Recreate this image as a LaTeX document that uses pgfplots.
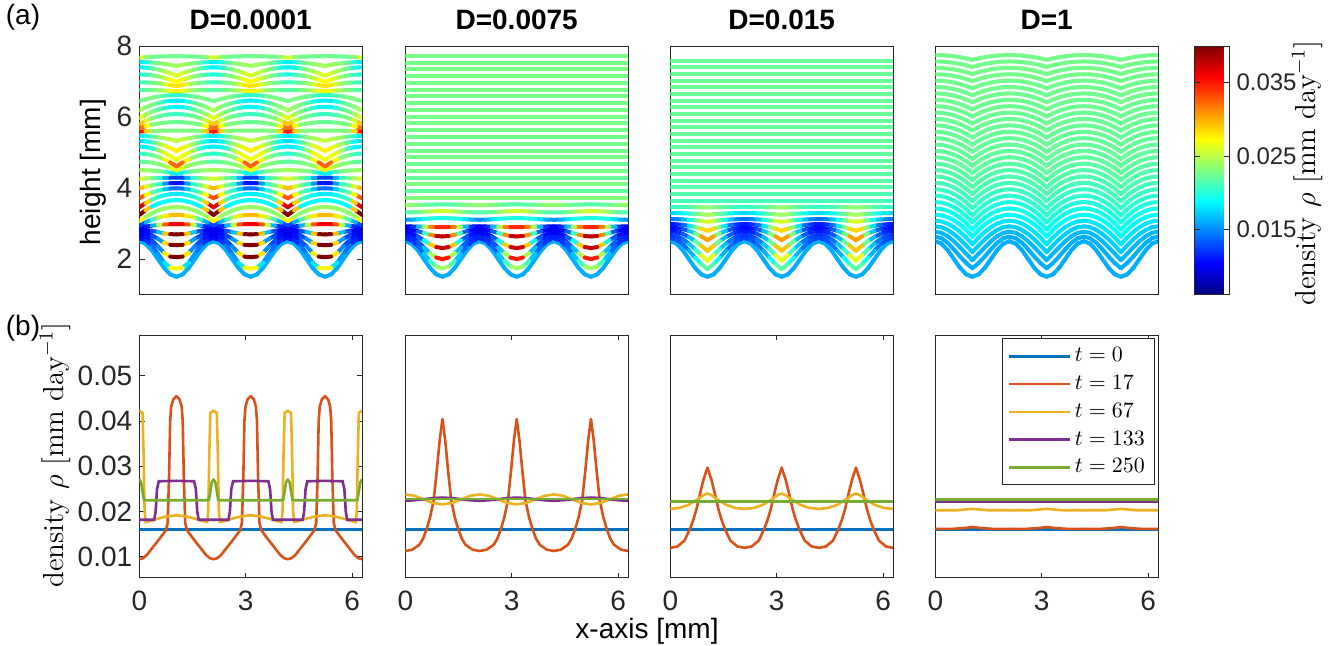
\documentclass[border=0pt]{standalone}
\usepackage{fontspec}
\setsansfont{Liberation Sans}
\usepackage{pgfplots}
\usepackage{pgfplotstable}
\pgfplotsset{compat=1.18}

\begin{filecontents*}[overwrite]{p1.dat}
x y c
0 2.5 0.0161
0.1745 2.433 0.0161
0.3491 2.25 0.0161
0.5236 2.0 0.0161
0.6981 1.75 0.0161
0.8727 1.567 0.0161
1.0472 1.5 0.0161

0 2.58 0.0105
0.1745 2.538 0.0110
0.3491 2.393 0.0130
0.5236 2.155 0.0150
0.6981 1.90 0.0160
0.8727 1.756 0.0200
1.0472 1.73 0.0350

0 2.67 0.0095
0.1745 2.639 0.0102
0.3491 2.534 0.0118
0.5236 2.36 0.0140
0.6981 2.174 0.0160
0.8727 2.069 0.0440
1.0472 2.05 0.0455

0 2.75 0.0095
0.1745 2.732 0.0100
0.3491 2.671 0.0115
0.5236 2.57 0.0140
0.6981 2.462 0.0170
0.8727 2.401 0.0440
1.0472 2.39 0.0440

0 2.825 0.0095
0.1745 2.819 0.0098
0.3491 2.796 0.0110
0.5236 2.76 0.0150
0.6981 2.721 0.0185
0.8727 2.699 0.0420
1.0472 2.695 0.0420

0 2.883 0.0100
0.1745 2.914 0.0105
0.3491 2.939 0.0125
0.5236 2.958 0.0200
0.6981 2.972 0.0300
0.8727 2.98 0.0360
1.0472 2.983 0.0360

0 2.94 0.0120
0.1745 3.032 0.0135
0.3491 3.107 0.0190
0.5236 3.165 0.0235
0.6981 3.207 0.0270
0.8727 3.232 0.0290
1.0472 3.24 0.0300

0 3.063 0.0300
0.1745 3.185 0.0250
0.3491 3.285 0.0232
0.5236 3.363 0.0235
0.6981 3.419 0.0240
0.8727 3.452 0.0240
1.0472 3.463 0.0240

0 3.24 0.0420
0.1745 3.369 0.0400
0.3491 3.474 0.0185
0.5236 3.555 0.0187
0.6981 3.613 0.0189
0.8727 3.648 0.0190
1.0472 3.66 0.0192

0 3.457 0.0380
0.1745 3.573 0.0360
0.3491 3.668 0.0215
0.5236 3.742 0.0205
0.6981 3.795 0.0195
0.8727 3.826 0.0185
1.0472 3.837 0.0180

0 3.713 0.0340
0.1745 3.799 0.0320
0.3491 3.869 0.0225
0.5236 3.923 0.0215
0.6981 3.962 0.0190
0.8727 3.985 0.0150
1.0472 3.993 0.0130

0 3.99 0.0300
0.1745 4.036 0.0290
0.3491 4.073 0.0228
0.5236 4.103 0.0220
0.6981 4.123 0.0190
0.8727 4.136 0.0120
1.0472 4.14 0.0100

0 4.26 0.0265
0.1745 4.269 0.0255
0.3491 4.277 0.0230
0.5236 4.283 0.0220
0.6981 4.287 0.0190
0.8727 4.289 0.0135
1.0472 4.29 0.0115

0 4.503 0.0245
0.1745 4.50 0.0240
0.3491 4.492 0.0235
0.5236 4.478 0.0230
0.6981 4.459 0.0225
0.8727 4.434 0.0200
1.0472 4.403 0.0170

0 4.743 0.0215
0.1745 4.736 0.0220
0.3491 4.715 0.0228
0.5236 4.681 0.0232
0.6981 4.632 0.0235
0.8727 4.569 0.0250
1.0472 4.493 0.0280

0 4.97 0.0200
0.1745 4.96 0.0205
0.3491 4.93 0.0220
0.5236 4.88 0.0230
0.6981 4.81 0.0240
0.8727 4.72 0.0310
1.0472 4.61 0.0340

0 5.167 0.0182
0.1745 5.156 0.0182
0.3491 5.125 0.0190
0.5236 5.072 0.0225
0.6981 4.998 0.0262
0.8727 4.903 0.0268
1.0472 4.787 0.0268

0 5.323 0.0175
0.1745 5.315 0.0178
0.3491 5.292 0.0200
0.5236 5.253 0.0230
0.6981 5.199 0.0250
0.8727 5.129 0.0270
1.0472 5.043 0.0285

0 5.467 0.0180
0.1745 5.463 0.0185
0.3491 5.451 0.0210
0.5236 5.432 0.0230
0.6981 5.405 0.0240
0.8727 5.37 0.0250
1.0472 5.327 0.0255

0 5.59 0.0360
0.1745 5.599 0.0340
0.3491 5.607 0.0235
0.5236 5.613 0.0230
0.6981 5.617 0.0230
0.8727 5.619 0.0230
1.0472 5.62 0.0230

0 5.687 0.0330
0.1745 5.739 0.0310
0.3491 5.782 0.0232
0.5236 5.815 0.0230
0.6981 5.838 0.0228
0.8727 5.852 0.0225
1.0472 5.857 0.0222

0 5.803 0.0300
0.1745 5.889 0.0280
0.3491 5.959 0.0232
0.5236 6.013 0.0228
0.6981 6.052 0.0220
0.8727 6.075 0.0210
1.0472 6.083 0.0205

0 5.967 0.0275
0.1745 6.065 0.0250
0.3491 6.145 0.0230
0.5236 6.207 0.0225
0.6981 6.251 0.0210
0.8727 6.278 0.0190
1.0472 6.287 0.0182

0 6.183 0.0250
0.1745 6.269 0.0235
0.3491 6.339 0.0230
0.5236 6.393 0.0225
0.6981 6.432 0.0205
0.8727 6.455 0.0185
1.0472 6.463 0.0180

0 6.447 0.0228
0.1745 6.499 0.0228
0.3491 6.542 0.0230
0.5236 6.575 0.0228
0.6981 6.598 0.0220
0.8727 6.612 0.0205
1.0472 6.617 0.0200

0 6.76 0.0215
0.1745 6.759 0.0218
0.3491 6.757 0.0225
0.5236 6.753 0.0232
0.6981 6.747 0.0240
0.8727 6.739 0.0265
1.0472 6.73 0.0280

0 6.977 0.0205
0.1745 6.974 0.0210
0.3491 6.965 0.0222
0.5236 6.95 0.0232
0.6981 6.928 0.0242
0.8727 6.901 0.0275
1.0472 6.867 0.0290

0 7.2 0.0195
0.1745 7.194 0.0200
0.3491 7.177 0.0218
0.5236 7.148 0.0232
0.6981 7.107 0.0242
0.8727 7.054 0.0268
1.0472 6.99 0.0280

0 7.40 0.0182
0.1745 7.393 0.0188
0.3491 7.373 0.0210
0.5236 7.34 0.0230
0.6981 7.293 0.0240
0.8727 7.233 0.0255
1.0472 7.16 0.0265

0 7.547 0.0180
0.1745 7.544 0.0188
0.3491 7.535 0.0210
0.5236 7.52 0.0228
0.6981 7.498 0.0235
0.8727 7.471 0.0240
1.0472 7.437 0.0242

0 7.673 0.0270
0.1745 7.685 0.0245
0.3491 7.695 0.0225
0.5236 7.703 0.0225
0.6981 7.709 0.0225
0.8727 7.712 0.0225
1.0472 7.713 0.0225
\end{filecontents*}

\begin{filecontents*}[overwrite]{p2.dat}
x y c
0 2.5 0.0161
0.1745 2.433 0.0161
0.3491 2.25 0.0161
0.5236 2.0 0.0161
0.6981 1.75 0.0161
0.8727 1.567 0.0161
1.0472 1.5 0.0161

0 2.579 0.0115
0.1745 2.522 0.0117
0.3491 2.368 0.0125
0.5236 2.157 0.0150
0.6981 1.945 0.0190
0.8727 1.791 0.0230
1.0472 1.734 0.0250

0 2.664 0.0113
0.1745 2.619 0.0114
0.3491 2.497 0.0122
0.5236 2.331 0.0145
0.6981 2.164 0.0190
0.8727 2.042 0.0300
1.0472 1.997 0.0404

0 2.748 0.0100
0.1745 2.718 0.0102
0.3491 2.638 0.0115
0.5236 2.528 0.0150
0.6981 2.417 0.0230
0.8727 2.337 0.0350
1.0472 2.307 0.0400

0 2.833 0.0095
0.1745 2.820 0.0098
0.3491 2.784 0.0110
0.5236 2.734 0.0160
0.6981 2.685 0.0260
0.8727 2.648 0.0360
1.0472 2.635 0.0395

0 2.917 0.0100
0.1745 2.916 0.0105
0.3491 2.913 0.0130
0.5236 2.909 0.0200
0.6981 2.904 0.0290
0.8727 2.901 0.0340
1.0472 2.90 0.0350

0 3.105 0.0150
0.1745 3.108 0.0155
0.3491 3.117 0.0170
0.5236 3.129 0.0190
0.6981 3.140 0.0200
0.8727 3.149 0.0200
1.0472 3.152 0.0195

0 3.311 0.0215
0.1745 3.314 0.0216
0.3491 3.321 0.0220
0.5236 3.330 0.0230
0.6981 3.340 0.0245
0.8727 3.346 0.0255
1.0472 3.349 0.0260

0 3.518 0.0238
0.1745 3.519 0.0236
0.3491 3.523 0.0232
0.5236 3.528 0.0227
0.6981 3.532 0.0220
0.8727 3.536 0.0217
1.0472 3.537 0.0216

0 3.72 0.0232
1.0472 3.72 0.0232

0 3.912 0.0220
1.0472 3.912 0.0220

0 4.103 0.0230
1.0472 4.103 0.0230

0 4.294 0.0222
1.0472 4.294 0.0222

0 4.484 0.0228
1.0472 4.484 0.0228

0 4.675 0.0224
1.0472 4.675 0.0224

0 4.866 0.0227
1.0472 4.866 0.0227

0 5.056 0.0227
1.0472 5.056 0.0227

0 5.247 0.0227
1.0472 5.247 0.0227

0 5.438 0.0227
1.0472 5.438 0.0227

0 5.628 0.0227
1.0472 5.628 0.0227

0 5.819 0.0228
1.0472 5.819 0.0228

0 6.010 0.0228
1.0472 6.010 0.0228

0 6.201 0.0228
1.0472 6.201 0.0228

0 6.391 0.0228
1.0472 6.391 0.0228

0 6.582 0.0228
1.0472 6.582 0.0228

0 6.773 0.0228
1.0472 6.773 0.0228

0 6.963 0.0228
1.0472 6.963 0.0228

0 7.154 0.0228
1.0472 7.154 0.0228

0 7.345 0.0228
1.0472 7.345 0.0228

0 7.535 0.0228
1.0472 7.535 0.0228

0 7.726 0.0228
1.0472 7.726 0.0228
\end{filecontents*}

\begin{filecontents*}[overwrite]{p3.dat}
x y c
0 2.5 0.0161
0.1745 2.433 0.0161
0.3491 2.25 0.0161
0.5236 2.0 0.0161
0.6981 1.75 0.0161
0.8727 1.567 0.0161
1.0472 1.5 0.0161

0 2.588 0.0125
0.1745 2.543 0.0127
0.3491 2.419 0.0135
0.5236 2.239 0.0150
0.6981 2.040 0.0175
0.8727 1.857 0.0205
1.0472 1.715 0.0230

0 2.682 0.0120
0.1745 2.651 0.0122
0.3491 2.565 0.0133
0.5236 2.435 0.0152
0.6981 2.279 0.0185
0.8727 2.112 0.0230
1.0472 1.95 0.0298

0 2.786 0.0110
0.1745 2.766 0.0112
0.3491 2.709 0.0122
0.5236 2.620 0.0145
0.6981 2.506 0.0190
0.8727 2.375 0.0255
1.0472 2.232 0.0330

0 2.88 0.0105
0.1745 2.870 0.0107
0.3491 2.841 0.0118
0.5236 2.793 0.0145
0.6981 2.725 0.0195
0.8727 2.638 0.0265
1.0472 2.532 0.0345

0 2.983 0.0110
0.1745 2.978 0.0113
0.3491 2.962 0.0125
0.5236 2.936 0.0155
0.6981 2.900 0.0205
0.8727 2.853 0.0262
1.0472 2.795 0.0310

0 3.124 0.0140
0.1745 3.122 0.0143
0.3491 3.116 0.0155
0.5236 3.105 0.0178
0.6981 3.090 0.0210
0.8727 3.071 0.0245
1.0472 3.048 0.0272

0 3.293 0.0175
0.1745 3.292 0.0177
0.3491 3.288 0.0185
0.5236 3.281 0.0198
0.6981 3.272 0.0216
0.8727 3.260 0.0234
1.0472 3.246 0.0250

0 3.471 0.0206
0.1745 3.470 0.0207
0.3491 3.469 0.0210
0.5236 3.466 0.0215
0.6981 3.463 0.0222
0.8727 3.458 0.0231
1.0472 3.452 0.0240

0 3.645 0.0212
1.0472 3.645 0.0212

0 3.828 0.0215
1.0472 3.828 0.0215

0 4.016 0.0217
1.0472 4.016 0.0217

0 4.204 0.0218
1.0472 4.204 0.0218

0 4.391 0.0219
1.0472 4.391 0.0219

0 4.579 0.0220
1.0472 4.579 0.0220

0 4.767 0.0220
1.0472 4.767 0.0220

0 4.955 0.0221
1.0472 4.955 0.0221

0 5.143 0.0221
1.0472 5.143 0.0221

0 5.330 0.0222
1.0472 5.330 0.0222

0 5.518 0.0222
1.0472 5.518 0.0222

0 5.706 0.0222
1.0472 5.706 0.0222

0 5.894 0.0222
1.0472 5.894 0.0222

0 6.082 0.0223
1.0472 6.082 0.0223

0 6.269 0.0223
1.0472 6.269 0.0223

0 6.457 0.0223
1.0472 6.457 0.0223

0 6.645 0.0223
1.0472 6.645 0.0223

0 6.833 0.0223
1.0472 6.833 0.0223

0 7.021 0.0223
1.0472 7.021 0.0223

0 7.208 0.0223
1.0472 7.208 0.0223

0 7.396 0.0223
1.0472 7.396 0.0223

0 7.584 0.0223
1.0472 7.584 0.0223
\end{filecontents*}

\begin{filecontents*}[overwrite]{p4.dat}
x y c
0 2.5 0.0161
0.1745 2.433 0.0161
0.3491 2.25 0.0161
0.5236 2.0 0.0161
0.6981 1.75 0.0161
0.8727 1.567 0.0161
1.0472 1.5 0.0161

0 2.63 0.0162
0.1745 2.585 0.0162
0.3491 2.457 0.0162
0.5236 2.274 0.0162
0.6981 2.071 0.0162
0.8727 1.885 0.0162
1.0472 1.74 0.0162

0 2.77 0.0165
0.1745 2.736 0.0165
0.3491 2.642 0.0165
0.5236 2.50 0.0165
0.6981 2.329 0.0165
0.8727 2.148 0.0165
1.0472 1.97 0.0165

0 2.92 0.0172
0.1745 2.894 0.0172
0.3491 2.819 0.0172
0.5236 2.702 0.0172
0.6981 2.554 0.0172
0.8727 2.382 0.0172
1.0472 2.195 0.0172

0 3.08 0.0180
0.1745 3.059 0.0180
0.3491 2.997 0.0180
0.5236 2.897 0.0180
0.6981 2.764 0.0180
0.8727 2.603 0.0180
1.0472 2.415 0.0180

0 3.245 0.0188
0.1745 3.228 0.0188
0.3491 3.177 0.0188
0.5236 3.091 0.0188
0.6981 2.972 0.0188
0.8727 2.818 0.0188
1.0472 2.63 0.0188

0 3.425 0.0194
0.1745 3.408 0.0194
0.3491 3.359 0.0194
0.5236 3.276 0.0194
0.6981 3.161 0.0194
0.8727 3.012 0.0194
1.0472 2.83 0.0194

0 3.605 0.0199
0.1745 3.589 0.0199
0.3491 3.541 0.0199
0.5236 3.461 0.0199
0.6981 3.350 0.0199
0.8727 3.206 0.0199
1.0472 3.03 0.0199

0 3.785 0.0204
0.1745 3.769 0.0204
0.3491 3.723 0.0204
0.5236 3.646 0.0204
0.6981 3.539 0.0204
0.8727 3.400 0.0204
1.0472 3.23 0.0204

0 3.965 0.0208
0.1745 3.950 0.0208
0.3491 3.906 0.0208
0.5236 3.831 0.0208
0.6981 3.727 0.0208
0.8727 3.594 0.0208
1.0472 3.43 0.0208

0 4.145 0.0211
0.1745 4.131 0.0211
0.3491 4.088 0.0211
0.5236 4.016 0.0211
0.6981 3.916 0.0211
0.8727 3.788 0.0211
1.0472 3.63 0.0211

0 4.325 0.0214
0.1745 4.311 0.0214
0.3491 4.270 0.0214
0.5236 4.201 0.0214
0.6981 4.105 0.0214
0.8727 3.981 0.0214
1.0472 3.83 0.0214

0 4.505 0.0216
0.1745 4.492 0.0216
0.3491 4.452 0.0216
0.5236 4.385 0.0216
0.6981 4.292 0.0216
0.8727 4.172 0.0216
1.0472 4.025 0.0216

0 4.685 0.0218
0.1745 4.672 0.0218
0.3491 4.634 0.0218
0.5236 4.570 0.0218
0.6981 4.481 0.0218
0.8727 4.366 0.0218
1.0472 4.225 0.0218

0 4.865 0.0220
0.1745 4.853 0.0220
0.3491 4.816 0.0220
0.5236 4.755 0.0220
0.6981 4.670 0.0220
0.8727 4.560 0.0220
1.0472 4.425 0.0220

0 5.045 0.0221
0.1745 5.033 0.0221
0.3491 4.998 0.0221
0.5236 4.940 0.0221
0.6981 4.859 0.0221
0.8727 4.754 0.0221
1.0472 4.625 0.0221

0 5.225 0.0222
0.1745 5.214 0.0222
0.3491 5.180 0.0222
0.5236 5.124 0.0222
0.6981 5.045 0.0222
0.8727 4.944 0.0222
1.0472 4.82 0.0222

0 5.405 0.0222
0.1745 5.394 0.0222
0.3491 5.362 0.0222
0.5236 5.309 0.0222
0.6981 5.234 0.0222
0.8727 5.138 0.0222
1.0472 5.02 0.0222

0 5.585 0.0223
0.1745 5.575 0.0223
0.3491 5.544 0.0223
0.5236 5.494 0.0223
0.6981 5.423 0.0223
0.8727 5.332 0.0223
1.0472 5.22 0.0223

0 5.765 0.0223
0.1745 5.755 0.0223
0.3491 5.727 0.0223
0.5236 5.679 0.0223
0.6981 5.612 0.0223
0.8727 5.526 0.0223
1.0472 5.42 0.0223

0 5.945 0.0224
0.1745 5.936 0.0224
0.3491 5.909 0.0224
0.5236 5.864 0.0224
0.6981 5.801 0.0224
0.8727 5.719 0.0224
1.0472 5.62 0.0224

0 6.125 0.0224
0.1745 6.116 0.0224
0.3491 6.091 0.0224
0.5236 6.048 0.0224
0.6981 5.987 0.0224
0.8727 5.910 0.0224
1.0472 5.815 0.0224

0 6.305 0.0225
0.1745 6.297 0.0225
0.3491 6.273 0.0225
0.5236 6.233 0.0225
0.6981 6.176 0.0225
0.8727 6.104 0.0225
1.0472 6.015 0.0225

0 6.485 0.0225
0.1745 6.477 0.0225
0.3491 6.455 0.0225
0.5236 6.418 0.0225
0.6981 6.365 0.0225
0.8727 6.298 0.0225
1.0472 6.215 0.0225

0 6.665 0.0226
0.1745 6.658 0.0226
0.3491 6.637 0.0226
0.5236 6.603 0.0226
0.6981 6.554 0.0226
0.8727 6.491 0.0226
1.0472 6.415 0.0226

0 6.845 0.0226
0.1745 6.838 0.0226
0.3491 6.819 0.0226
0.5236 6.786 0.0226
0.6981 6.741 0.0226
0.8727 6.682 0.0226
1.0472 6.61 0.0226

0 7.025 0.0226
0.1745 7.019 0.0226
0.3491 7.001 0.0226
0.5236 6.971 0.0226
0.6981 6.930 0.0226
0.8727 6.876 0.0226
1.0472 6.81 0.0226

0 7.205 0.0227
0.1745 7.200 0.0227
0.3491 7.183 0.0227
0.5236 7.156 0.0227
0.6981 7.118 0.0227
0.8727 7.070 0.0227
1.0472 7.01 0.0227

0 7.385 0.0227
0.1745 7.380 0.0227
0.3491 7.366 0.0227
0.5236 7.341 0.0227
0.6981 7.307 0.0227
0.8727 7.264 0.0227
1.0472 7.21 0.0227

0 7.565 0.0227
0.1745 7.561 0.0227
0.3491 7.548 0.0227
0.5236 7.526 0.0227
0.6981 7.496 0.0227
0.8727 7.457 0.0227
1.0472 7.41 0.0227

0 7.745 0.0227
0.1745 7.741 0.0227
0.3491 7.730 0.0227
0.5236 7.711 0.0227
0.6981 7.685 0.0227
0.8727 7.651 0.0227
1.0472 7.61 0.0227
\end{filecontents*}

% bottom-row half-period tables (x from 0 to pi/3)
\pgfplotstableread{
x y
0 0.0095
0.1 0.0097
0.21 0.0104
0.39 0.0122
0.58 0.0141
0.75 0.0159
0.80 0.0175
0.84 0.0280
0.87 0.0400
0.90 0.0432
0.96 0.0448
1.0472 0.0455
}\aO
\pgfplotstableread{
x y
0 0.0423
0.09 0.0418
0.12 0.0330
0.15 0.0200
0.18 0.0177
0.30 0.0179
0.50 0.0184
0.75 0.0189
1.0472 0.0192
}\aY
\pgfplotstableread{
x y
0 0.0182
0.42 0.0182
0.46 0.0200
0.50 0.0250
0.55 0.0267
1.0472 0.0268
}\aP
\pgfplotstableread{
x y
0 0.0271
0.05 0.0265
0.10 0.0240
0.13 0.0226
0.20 0.0225
1.0472 0.0225
}\aG
\pgfplotstableread{
x y
0 0.0113
0.2 0.0116
0.4 0.0127
0.5 0.0140
0.6 0.0161
0.7 0.0188
0.8 0.0225
0.89 0.0292
0.97 0.0358
1.0472 0.0404
}\bO
\pgfplotstableread{
x y
0 0.0238
0.26 0.0235
0.52 0.0227
0.785 0.0219
1.0472 0.0216
}\bY
\pgfplotstableread{
x y
0 0.0224
0.26 0.0225
0.52 0.02275
0.785 0.0230
1.0472 0.0231
}\bP
\pgfplotstableread{
x y
0 0.0120
0.2 0.0123
0.4 0.0136
0.55 0.0161
0.65 0.0182
0.74 0.0206
0.84 0.0240
0.93 0.0269
1.0472 0.0297
}\cO
\pgfplotstableread{
x y
0 0.0206
0.26 0.0208
0.52 0.0215
0.785 0.0228
0.95 0.0237
1.0472 0.0240
}\cY
\pgfplotstableread{
x y
0 0.0162
0.5 0.0162
0.85 0.0164
1.0472 0.0166
}\dO
\pgfplotstableread{
x y
0 0.0203
0.6 0.0203
0.9 0.0205
1.0472 0.0206
}\dY

\definecolor{mblue}{rgb}{0,0.447,0.741}
\definecolor{morange}{rgb}{0.85,0.325,0.098}
\definecolor{myellow}{rgb}{0.929,0.694,0.125}
\definecolor{mpurple}{rgb}{0.494,0.184,0.556}
\definecolor{mgreen}{rgb}{0.466,0.674,0.188}
\definecolor{axgray}{rgb}{0.15,0.15,0.15}

\newcommand\tf{\sffamily\fontsize{14}{16}\selectfont}

\newcommand\six[3]{%
\addplot[#1,forget plot] table[#2,x expr=\thisrow{x}]{#3};
\addplot[#1,forget plot] table[#2,x expr=2.0944-\thisrow{x}]{#3};
\addplot[#1,forget plot] table[#2,x expr=2.0944+\thisrow{x}]{#3};
\addplot[#1,forget plot] table[#2,x expr=4.1888-\thisrow{x}]{#3};
\addplot[#1,forget plot] table[#2,x expr=4.1888+\thisrow{x}]{#3};
\addplot[#1,forget plot] table[#2,x expr=6.2832-\thisrow{x}]{#3};
}

\pgfplotsset{
 every axis title/.style={at={(0.5,1)}, anchor=base, yshift=8.5pt, font=\bfseries\tf},
 base/.style={scale only axis, width=111.4pt, xmin=0, xmax=6.2832,
   axis line style={axgray, line width=0.45pt},
   tick style={axgray, line width=0.45pt},
   tick align=inside, major tick length=2.6pt,
   scaled x ticks=false, scaled y ticks=false,
   ticklabel style={font=\tf, text=axgray}},
 top/.style={base, height=124.25pt, ymin=1, ymax=8, xtick=\empty, ytick=\empty,
   colormap/jet, point meta min=0.0061, point meta max=0.040},
 bot/.style={base, height=121.35pt, ymin=0.0054, ymax=0.059,
   xtick={0,3,6}, xticklabels={0,3,6}, ytick=\empty,
   xticklabel style={yshift=-3pt}},
 curve/.style={mesh, point meta=explicit, line width=2pt, line cap=round, unbounded coords=jump},
 bl/.style={line width=1.3pt, line cap=round},
}

\begin{document}
\begin{tikzpicture}
\path[use as bounding box] (0,0) rectangle (669.5pt,-322.5pt);

% ---------- top row ----------
\begin{axis}[top, at={(69.65pt,-23pt)}, anchor=north west, title={D=0.0001},
  ytick={2,4,6,8}, yticklabels={2,4,6,8}]
\six{curve}{y=y,meta=c,empty line=jump}{p1.dat}
\end{axis}

\begin{axis}[top, at={(202.65pt,-23pt)}, anchor=north west, title={D=0.0075}]
\six{curve}{y=y,meta=c,empty line=jump}{p2.dat}
\end{axis}

\begin{axis}[top, at={(335.15pt,-23pt)}, anchor=north west, title={D=0.015}]
\six{curve}{y=y,meta=c,empty line=jump}{p3.dat}
\end{axis}

\begin{axis}[top, at={(467.65pt,-23pt)}, anchor=north west, title={D=1},
  colorbar,
  colorbar style={at={(parent axis.north east)}, anchor=north west, xshift=9.85pt,
    scale only axis, width=17.3pt, height=124.25pt,
    scaled y ticks=false,
    ytick={0.015,0.025,0.035}, yticklabels={0.015,0.025,0.035},
    yticklabel style={font=\sffamily\fontsize{12}{14}\selectfont, text=axgray},
    axis line style={axgray, line width=0.45pt},
    tick style={axgray, line width=0.45pt}, major tick length=2.6pt, tick align=inside}]
\six{curve}{y=y,meta=c,empty line=jump}{p4.dat}
\end{axis}

% ---------- bottom row ----------
\begin{axis}[bot, at={(69.65pt,-167.5pt)}, anchor=north west,
  ytick={0.01,0.02,0.03,0.04,0.05}, yticklabels={0.01,0.02,0.03,0.04,0.05}]
\addplot[bl, mblue, forget plot] coordinates {(0,0.0161) (6.2832,0.0161)};
\six{bl,morange}{y=y}{\aO}
\six{bl,myellow}{y=y}{\aY}
\six{bl,mpurple}{y=y}{\aP}
\six{bl,mgreen}{y=y}{\aG}
\end{axis}

\begin{axis}[bot, at={(202.65pt,-167.5pt)}, anchor=north west]
\addplot[bl, mblue, forget plot] coordinates {(0,0.0161) (6.2832,0.0161)};
\six{bl,morange}{y=y}{\bO}
\six{bl,myellow}{y=y}{\bY}
\six{bl,mpurple}{y=y}{\bP}
\addplot[bl, mgreen, forget plot] coordinates {(0,0.0228) (6.2832,0.0228)};
\end{axis}

\begin{axis}[bot, at={(335.15pt,-167.5pt)}, anchor=north west]
\addplot[bl, mblue, forget plot] coordinates {(0,0.0161) (6.2832,0.0161)};
\six{bl,morange}{y=y}{\cO}
\six{bl,myellow}{y=y}{\cY}
\addplot[bl, mpurple, forget plot] coordinates {(0,0.0221) (6.2832,0.0221)};
\addplot[bl, mgreen, forget plot] coordinates {(0,0.0223) (6.2832,0.0223)};
\end{axis}

\begin{axis}[bot, at={(467.65pt,-167.5pt)}, anchor=north west,
  legend style={at={(0.987,0.986)}, anchor=north east, draw=axgray, line width=0.45pt,
    font=\fontsize{10.8}{13}\selectfont, row sep=1.3pt, inner xsep=3pt, inner ysep=2.5pt},
  legend cell align=left,
  legend image code/.code={\draw[#1] (0pt,0pt) -- (30pt,0pt);}]
\addplot[bl, mblue, forget plot] coordinates {(0,0.0161) (6.2832,0.0161)};
\six{bl,morange}{y=y}{\dO}
\six{bl,myellow}{y=y}{\dY}
\addplot[bl, mpurple, forget plot] coordinates {(0,0.0221) (6.2832,0.0221)};
\addplot[bl, mgreen, forget plot] coordinates {(0,0.0227) (6.2832,0.0227)};
\addlegendimage{mblue, line width=1.3pt}\addlegendentry{$t=0$}
\addlegendimage{morange, line width=1.3pt}\addlegendentry{$t=17$}
\addlegendimage{myellow, line width=1.3pt}\addlegendentry{$t=67$}
\addlegendimage{mpurple, line width=1.3pt}\addlegendentry{$t=133$}
\addlegendimage{mgreen, line width=1.3pt}\addlegendentry{$t=250$}
\end{axis}

% ---------- free labels ----------
\node[font=\tf] at (11.5pt,-8.5pt) {(a)};
\node[font=\tf] at (11.5pt,-164pt) {(b)};
\node[font=\tf, rotate=90] at (46.5pt,-86pt) {height [mm]};
\node[font=\rmfamily\fontsize{14.5}{17}\selectfont, rotate=90] at (27.5pt,-227.5pt) {density $\rho$ [mm day$^{-1}$]};
\node[font=\rmfamily\fontsize{14.5}{17}\selectfont, rotate=90] at (653.5pt,-86.5pt) {density $\rho$ [mm day$^{-1}$]};
\node[font=\tf] at (323.5pt,-315.5pt) {x-axis [mm]};
\end{tikzpicture}
\end{document}
